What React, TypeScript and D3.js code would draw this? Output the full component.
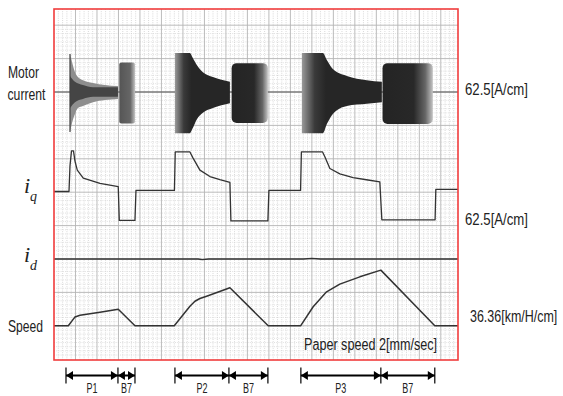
import React from 'react';
import * as d3 from 'd3';

const W = 563;
const H = 396;

// time axis (s); major grid every 5 s
const timeDomain = [0, 94];
const majorStepSec = 5;

// Motor current envelope bursts: [t (s), upper (A), lower (A)]
const burstP1 = [
  [3.72, 71, 75], [4.19, 56, 58], [4.88, 37, 41], [5.58, 28, 30], [6.74, 22, 26],
  [9.07, 17, 19], [11.86, 13, 15], [14.88, 11, 13],
];
const burstP1Core = [
  [3.72, 30, 30], [4.88, 19, 19], [6.74, 13, 13], [9.07, 9, 9], [11.86, 9, 9], [14.88, 9, 9],
];
const burstP2 = [
  [28.14, 73, 77], [31.63, 73, 77], [32.21, 65, 69], [33.19, 51, 52], [34.65, 37, 39],
  [36.98, 28, 30], [40.93, 19, 21],
];
const burstP3 = [
  [57.67, 73, 77], [62.56, 73, 77], [63.49, 60, 60], [64.88, 43, 41], [68.14, 30, 26],
  [72.79, 22, 22], [76.28, 19, 19],
];
// B7 blocks: [tStart, tEnd, upper (A), lower (A)]
const blocksB7 = [
  [15.19, 18.84, 55, 59],
  [41.33, 49.77, 54, 58],
  [76.44, 88.14, 54, 60],
];

// iq: [t (s), A]
const iqSeries = [
  [0, 0], [3.49, 0], [3.72, 48], [4.07, 76], [4.53, 76], [4.88, 57], [5.42, 40], [6.81, 25],
  [10.7, 15], [14.95, 9], [15.19, -54], [18.84, -54], [19.07, 2],
  [28.02, 2], [28.21, 74], [31.63, 74], [32.33, 63], [33.95, 40], [36.28, 28], [38.6, 22],
  [40.93, 17], [41.16, -55], [49.77, -55], [50.0, 2],
  [57.37, 2], [57.56, 74], [62.49, 74], [63.02, 65], [64.19, 43], [66.51, 33], [69.6, 26],
  [72.7, 22], [75.81, 18], [76.28, -53], [88.67, -53], [88.84, 4], [94, 4],
];

// id: [t (s), A]
const idSeries = [
  [0, 0], [33.5, 0], [34.5, -1], [36, 0], [58, 0], [60, 1], [62, 0], [94, 0],
];

// speed: [t (s), km/h]
const speedSeries = [
  [0, 0], [3.33, 0], [4.19, 5.4], [4.88, 9.5], [6.05, 11.4], [8.37, 13.1], [10.7, 14.7],
  [14.95, 18.0], [18.84, 0],
  [27.98, 0], [31.63, 21.2], [32.79, 26.7], [33.95, 29.7], [35.51, 32.2], [40.93, 41.4],
  [49.84, 0],
  [57.37, 0], [60.3, 20.7], [61.86, 29.0], [63.42, 37.0], [66.5, 45.4], [71.16, 53.3],
  [76.05, 60.6], [88.6, 0], [94, 0],
];

// interval markers: [start, P end, B7 end] (s)
const intervalMarks = [
  [2.79, 14.88, 18.84],
  [28.14, 40.7, 49.77],
  [57.44, 76.05, 88.6],
];
const intervalLabels = [
  ['P1', 'B7'],
  ['P2', 'B7'],
  ['P3', 'B7'],
];

const currentUnit = 62.5; // A/cm
const speedUnit = 36.36; // km/H/cm

export default function App() {
  const left = 54, right = 458, top = 9, bottom = 360;
  const cm = 33.4;
  const x = d3.scaleLinear().domain(timeDomain).range([left, right]);
  const yCur = d3.scaleLinear().domain([0, currentUnit]).range([92, 92 - cm]);
  const yIq = d3.scaleLinear().domain([0, currentUnit]).range([191.5, 191.5 - cm]);
  const yId = d3.scaleLinear().domain([0, currentUnit]).range([259, 259 - cm]);
  const ySpd = d3.scaleLinear().domain([0, speedUnit]).range([325.8, 325.8 - cm]);

  const area = d3.area<number[]>()
    .x(d => x(d[0]))
    .y1(d => yCur(d[1]))
    .y0(d => yCur(-d[2]))
    .curve(d3.curveMonotoneX);
  const iqLine = d3.line<number[]>().x(d => x(d[0])).y(d => yIq(d[1]));
  const idLine = d3.line<number[]>().x(d => x(d[0])).y(d => yId(d[1]));
  const spdLine = d3.line<number[]>().x(d => x(d[0])).y(d => ySpd(d[1]));

  // grid
  const majorV = d3.range(majorStepSec, timeDomain[1], majorStepSec);
  const minorV = d3.range(1, timeDomain[1], 1).filter(t => t % majorStepSec !== 0);
  const majorH: number[] = [];
  for (let k = -2; k <= 7; k++) majorH.push(92 + k * cm);
  const minorH: number[] = [];
  for (let k = -16; k <= 64; k++) {
    const yy = 92 + (k * cm) / 8;
    if (k % 8 !== 0 && yy > top + 1 && yy < bottom - 1) minorH.push(yy);
  }

  const ay = 375.5;
  const head = (tx: number, dir: number) =>
    `M${tx},${ay} L${tx - dir * 7},${ay - 4.5} L${tx - dir * 7},${ay + 4.5} Z`;

  const txt = '#222';
  const font = "'Liberation Sans', Arial, sans-serif";
  const serif = "'Liberation Serif', 'Times New Roman', serif";

  return (
    <svg width={W} height={H} style={{ position: 'absolute', left: 0, top: 0, background: '#fff' }}
      fontFamily={font}>
      <defs>
        <linearGradient id="burstGrad" x1="0" x2="1" y1="0" y2="0">
          <stop offset="0" stopColor="#9a9a9a" />
          <stop offset="0.16" stopColor="#3a3a3a" />
          <stop offset="0.3" stopColor="#262626" />
          <stop offset="1" stopColor="#262626" />
        </linearGradient>
        <linearGradient id="blockGrad" x1="0" x2="1" y1="0" y2="0">
          <stop offset="0" stopColor="#242424" />
          <stop offset="0.62" stopColor="#282828" />
          <stop offset="0.85" stopColor="#666" />
          <stop offset="1" stopColor="#c4c4c4" />
        </linearGradient>
        <linearGradient id="block1Grad" x1="0" x2="1" y1="0" y2="0">
          <stop offset="0" stopColor="#555" />
          <stop offset="0.7" stopColor="#666" />
          <stop offset="1" stopColor="#c0c0c0" />
        </linearGradient>
        <clipPath id="plotClip">
          <rect x={left} y={top} width={right - left} height={bottom - top} />
        </clipPath>
      </defs>

      {/* grid */}
      <g clipPath="url(#plotClip)">
        {minorV.map(t => (
          <line key={'mv' + t} x1={x(t)} x2={x(t)} y1={top} y2={bottom}
            stroke="#c0c0c0" strokeWidth={0.6} strokeDasharray="1,1.2" />
        ))}
        {minorH.map((yy, i) => (
          <line key={'mh' + i} x1={left} x2={right} y1={yy} y2={yy}
            stroke="#cccccc" strokeWidth={0.6} strokeDasharray="1,1.2" />
        ))}
        {majorV.map(t => (
          <line key={'MV' + t} x1={x(t)} x2={x(t)} y1={top} y2={bottom}
            stroke="#b4b4b4" strokeWidth={0.9} />
        ))}
        {majorH.map((yy, i) => (
          <line key={'MH' + i} x1={left} x2={right} y1={yy} y2={yy}
            stroke="#b4b4b4" strokeWidth={0.9} />
        ))}
      </g>

      {/* motor current */}
      <line x1={left} x2={right} y1={yCur(0)} y2={yCur(0)} stroke="#555" strokeWidth={1.1} />
      <path d={area(burstP1) ?? ''} fill="#8e8e8e" />
      <path d={area(burstP1Core) ?? ''} fill="#454545" />
      <line x1={x(burstP1[0][0])} x2={x(burstP1[0][0])} y1={yCur(burstP1[0][1])} y2={yCur(-burstP1[0][2])}
        stroke="#444" strokeWidth={1.2} />
      <path d={area(burstP2) ?? ''} fill="url(#burstGrad)" />
      <path d={area(burstP3) ?? ''} fill="url(#burstGrad)" />
      {blocksB7.map((b, i) => (
        <rect key={'b' + i} x={x(b[0])} width={x(b[1]) - x(b[0])} y={yCur(b[2])}
          height={yCur(-b[3]) - yCur(b[2])} rx={i === 0 ? 2 : 5}
          fill={i === 0 ? 'url(#block1Grad)' : 'url(#blockGrad)'} />
      ))}

      {/* iq, id, speed */}
      <path d={iqLine(iqSeries) ?? ''} fill="none" stroke="#333" strokeWidth={1.3} strokeLinejoin="round" />
      <path d={idLine(idSeries) ?? ''} fill="none" stroke="#333" strokeWidth={1.3} />
      <path d={spdLine(speedSeries) ?? ''} fill="none" stroke="#333" strokeWidth={1.5} strokeLinejoin="round" />

      {/* frame */}
      <rect x={left} y={top} width={right - left} height={bottom - top} fill="none" stroke="#f03c3c" strokeWidth={1.6} />

      {/* left labels */}
      <text x={8} y={78} fontSize={17} fill={txt} textLength={31} lengthAdjust="spacingAndGlyphs">Motor</text>
      <text x={7.5} y={100} fontSize={17} fill={txt} textLength={38} lengthAdjust="spacingAndGlyphs">current</text>
      <text x={24} y={193} fontSize={22} fill={txt} fontFamily={serif} fontStyle="italic">i</text>
      <text x={30} y={201} fontSize={14} fill={txt} fontFamily={serif} fontStyle="italic">q</text>
      <text x={24} y={262} fontSize={22} fill={txt} fontFamily={serif} fontStyle="italic">i</text>
      <text x={30} y={270} fontSize={14} fill={txt} fontFamily={serif} fontStyle="italic">d</text>
      <text x={8} y={332} fontSize={17} fill={txt} textLength={35} lengthAdjust="spacingAndGlyphs">Speed</text>

      {/* right labels */}
      <text x={465} y={95} fontSize={16} fill={txt} textLength={63} lengthAdjust="spacingAndGlyphs">62.5[A/cm]</text>
      <text x={465} y={225} fontSize={16} fill={txt} textLength={63} lengthAdjust="spacingAndGlyphs">62.5[A/cm]</text>
      <text transform="translate(470,322) scale(0.78,1)" x={0} y={0} fontSize={16} fill={txt}>36.36[km/H/cm]</text>
      <text x={304} y={349.5} fontSize={16} fill={txt} textLength={133} lengthAdjust="spacingAndGlyphs">Paper speed 2[mm/sec]</text>

      {/* interval arrows */}
      {intervalMarks.map((m, i) => {
        const [a, b, c] = m.map(v => x(v));
        return (
          <g key={'iv' + i}>
            <line x1={a} x2={c} y1={ay} y2={ay} stroke="#000" strokeWidth={2} />
            {[a, b, c].map((px, j) => (
              <line key={j} x1={px} x2={px} y1={ay - 8} y2={ay + 8} stroke="#000" strokeWidth={1.2} />
            ))}
            <path d={head(a, -1)} fill="#000" />
            <path d={head(b, 1)} fill="#000" />
            <path d={head(b, -1)} fill="#000" />
            <path d={head(c, 1)} fill="#000" />
            <text x={(a + b) / 2} y={393} fontSize={14} fill={txt} textAnchor="middle"
              textLength={11} lengthAdjust="spacingAndGlyphs">{intervalLabels[i][0]}</text>
            <text x={(b + c) / 2} y={393} fontSize={14} fill={txt} textAnchor="middle"
              textLength={11} lengthAdjust="spacingAndGlyphs">{intervalLabels[i][1]}</text>
          </g>
        );
      })}
    </svg>
  );
}
